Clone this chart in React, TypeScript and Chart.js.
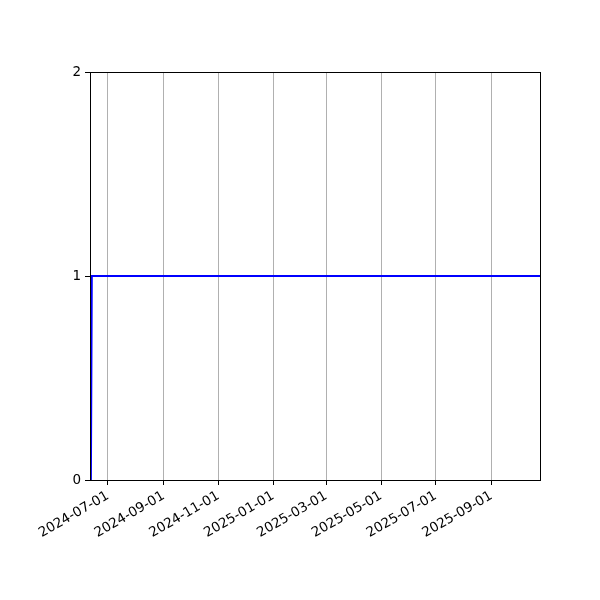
import { useRef, useEffect } from "react";
import Chart from "chart.js/auto";

// data
const dates = ["2024-06-12", "2024-06-13", "2025-10-25"];
const values = [0, 1, 1];
const tickDates = [
  "2024-07-01",
  "2024-09-01",
  "2024-11-01",
  "2025-01-01",
  "2025-03-01",
  "2025-05-01",
  "2025-07-01",
  "2025-09-01",
];
const yTicks = [0, 1, 2];
const xStart = "2024-06-11";
const xEnd = "2025-10-25";

const ms = (d: string) => Date.parse(d + "T00:00:00Z");
const fmt = (v: number) => new Date(v).toISOString().slice(0, 10);

const frame = {
  id: "frame",
  afterDraw(chart: any) {
    const { ctx, chartArea: a } = chart;
    ctx.save();
    ctx.strokeStyle = "#000";
    ctx.lineWidth = 1;
    ctx.strokeRect(a.left + 0.5, a.top + 0.5, a.right - a.left, a.bottom - a.top);
    ctx.restore();
  },
};

const App = () => {
  const canvasRef = useRef<HTMLCanvasElement>(null);

  useEffect(() => {
    const ctx = canvasRef.current!.getContext("2d")!;
    const font = { family: "DejaVu Sans", size: 13.5 };

    const myChart = new Chart(ctx, {
      type: "line",
      data: {
        datasets: [
          {
            data: dates.map((d, i) => ({ x: ms(d), y: values[i] })),
            borderColor: "#0000ff",
            borderWidth: 2,
            pointRadius: 0,
            tension: 0,
          },
        ],
      },
      plugins: [frame],
      options: {
        responsive: false,
        animation: false,
        layout: { padding: { left: 0, top: 72, right: 60, bottom: 0 } },
        plugins: { legend: { display: false }, tooltip: { enabled: false } },
        scales: {
          x: {
            type: "linear",
            min: ms(xStart),
            max: ms(xEnd),
            afterBuildTicks: (s: any) => {
              s.ticks = tickDates.map((d) => ({ value: ms(d) }));
            },
            afterFit: (s: any) => {
              s.height = 120;
            },
            ticks: {
              autoSkip: false,
              minRotation: 30,
              maxRotation: 30,
              color: "#000",
              font,
              padding: 3,
              callback: (v: any) => fmt(Number(v)),
            },
            grid: {
              color: "#b0b0b0",
              lineWidth: 1,
              tickColor: "#000",
              tickLength: 5,
            },
            border: { color: "#000", width: 1 },
          },
          y: {
            min: 0,
            max: 2,
            afterBuildTicks: (s: any) => {
              s.ticks = yTicks.map((v) => ({ value: v }));
            },
            afterFit: (s: any) => {
              s.width = 90;
            },
            ticks: { color: "#000", font, padding: 4 },
            grid: {
              drawOnChartArea: false,
              tickColor: "#000",
              tickLength: 5,
            },
            border: { color: "#000", width: 1 },
          },
        },
      },
    } as any);

    return () => {
      myChart.destroy();
    };
  }, []);

  return (
    <div style={{ position: "fixed", left: 0, top: 0, width: 600, height: 600, background: "#fff" }}>
      <canvas ref={canvasRef} width={600} height={600}></canvas>
    </div>
  );
};

export default App;
